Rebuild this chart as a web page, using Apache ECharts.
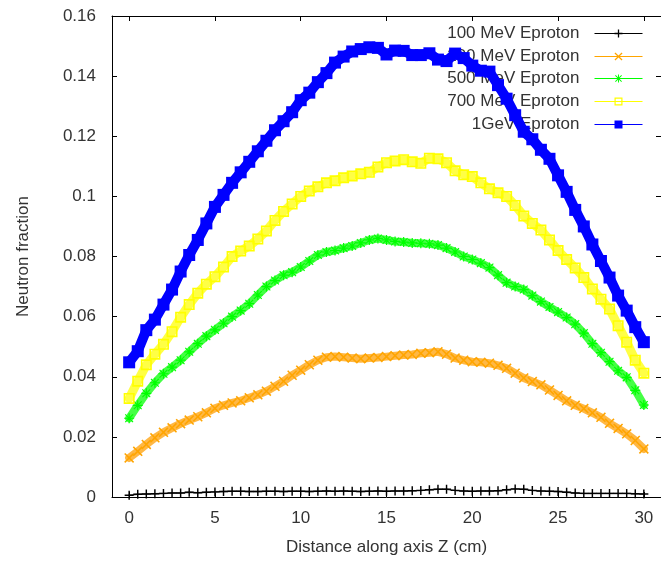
<!DOCTYPE html>
<html>
<head>
<meta charset="utf-8">
<script src="https://cdn.jsdelivr.net/npm/echarts@6/dist/echarts.min.js"></script>
<style>
html,body{margin:0;padding:0;background:#fff;}
#chart{width:661px;height:566px;}
</style>
</head>
<body>
<div id="chart"></div>
<script>
const seriesNames = ['100 MeV Eproton', '200 MeV Eproton', '500 MeV Eproton', '700 MeV Eproton', '1GeV Eproton'];
const xTicks = [0, 5, 10, 15, 20, 25, 30];
const yTicks = [0, 0.02, 0.04, 0.06, 0.08, 0.1, 0.12, 0.14, 0.16];
const zPositions = [0, 0.5, 1, 1.5, 2, 2.5, 3, 3.5, 4, 4.5, 5, 5.5, 6, 6.5, 7, 7.5, 8, 8.5, 9, 9.5,
  10, 10.5, 11, 11.5, 12, 12.5, 13, 13.5, 14, 14.5, 15, 15.5, 16, 16.5, 17, 17.5, 18, 18.5, 19, 19.5,
  20, 20.5, 21, 21.5, 22, 22.5, 23, 23.5, 24, 24.5, 25, 25.5, 26, 26.5, 27, 27.5, 28, 28.5, 29, 29.5, 30];

const mev100 = [0.0006, 0.0009, 0.0010, 0.0011, 0.0012, 0.0013, 0.0013, 0.0016, 0.0014, 0.0016,
  0.0017, 0.0018, 0.0019, 0.0019, 0.0018, 0.0018, 0.0019, 0.0019, 0.0018, 0.0019,
  0.0019, 0.0018, 0.0019, 0.0020, 0.0019, 0.0020, 0.0019, 0.0018, 0.0019, 0.0020,
  0.0019, 0.0020, 0.0020, 0.0021, 0.0022, 0.0024, 0.0026, 0.0026, 0.0022, 0.0020,
  0.0019, 0.0020, 0.0020, 0.0021, 0.0024, 0.0027, 0.0026, 0.0022, 0.0020, 0.0019,
  0.0018, 0.0016, 0.0013, 0.0012, 0.0012, 0.0012, 0.0012, 0.0012, 0.0012, 0.0011, 0.0010];

const mev200 = [0.0130, 0.0152, 0.0175, 0.0197, 0.0215, 0.0230, 0.0244, 0.0256, 0.0267, 0.0280,
  0.0295, 0.0305, 0.0313, 0.0320, 0.0330, 0.0340, 0.0352, 0.0368, 0.0385, 0.0405,
  0.0422, 0.0440, 0.0455, 0.0465, 0.0467, 0.0465, 0.0462, 0.0460, 0.0462, 0.0464,
  0.0467, 0.0470, 0.0472, 0.0474, 0.0478, 0.0480, 0.0483, 0.0475, 0.0462, 0.0455,
  0.0450, 0.0448, 0.0445, 0.0438, 0.0428, 0.0412, 0.0396, 0.0384, 0.0373, 0.0356,
  0.0338, 0.0320, 0.0305, 0.0294, 0.0280, 0.0265, 0.0245, 0.0228, 0.0210, 0.0188, 0.0160];

const mev500 = [0.0262, 0.0305, 0.0345, 0.0380, 0.0410, 0.0432, 0.0455, 0.0483, 0.0510, 0.0535,
  0.0556, 0.0578, 0.0600, 0.0620, 0.0643, 0.0672, 0.0700, 0.0720, 0.0738, 0.0748,
  0.0765, 0.0785, 0.0805, 0.0815, 0.0820, 0.0828, 0.0835, 0.0845, 0.0855, 0.0860,
  0.0855, 0.0850, 0.0848, 0.0845, 0.0844, 0.0842, 0.0838, 0.0828, 0.0815, 0.0800,
  0.0790, 0.0778, 0.0763, 0.0738, 0.0713, 0.0700, 0.0690, 0.0670, 0.0650, 0.0632,
  0.0615, 0.0597, 0.0575, 0.0545, 0.0510, 0.0480, 0.0450, 0.0420, 0.0398, 0.0355, 0.0306];

const mev700 = [0.0328, 0.0385, 0.0440, 0.0475, 0.0508, 0.0550, 0.0598, 0.0640, 0.0678, 0.0708,
  0.0733, 0.0765, 0.0800, 0.0818, 0.0835, 0.0858, 0.0885, 0.0920, 0.0950, 0.0975,
  0.1000, 0.1018, 0.1032, 0.1045, 0.1052, 0.1062, 0.1068, 0.1075, 0.1080, 0.1098,
  0.1112, 0.1118, 0.1122, 0.1115, 0.1110, 0.1127, 0.1125, 0.1112, 0.1085, 0.1072,
  0.1066, 0.1045, 0.1025, 0.1012, 0.1000, 0.0970, 0.0935, 0.0910, 0.0888, 0.0855,
  0.0820, 0.0790, 0.0762, 0.0730, 0.0692, 0.0658, 0.0625, 0.0570, 0.0515, 0.0455, 0.0412];

const gev1 = [0.0448, 0.0485, 0.0555, 0.0590, 0.0640, 0.0690, 0.0750, 0.0805, 0.0855, 0.0910,
  0.0965, 0.1005, 0.1045, 0.1080, 0.1115, 0.1150, 0.1185, 0.1220, 0.1250, 0.1280,
  0.1320, 0.1345, 0.1380, 0.1410, 0.1445, 0.1465, 0.1482, 0.1490, 0.1496, 0.1494,
  0.1472, 0.1485, 0.1484, 0.1470, 0.1470, 0.1476, 0.1455, 0.1450, 0.1475, 0.1460,
  0.1435, 0.1418, 0.1415, 0.1370, 0.1325, 0.1270, 0.1215, 0.1190, 0.1155, 0.1125,
  0.1070, 0.1015, 0.0955, 0.0900, 0.0840, 0.0785, 0.0730, 0.0670, 0.0620, 0.0565, 0.0515];

const seriesValues = [mev100, mev200, mev500, mev700, gev1];
const colors = ['#000000', '#ffa500', '#00ff00', '#ffff00', '#0000ff'];
const bandColors = ['#555555', '#ffb845', '#45ff45', '#ffff45', '#0000ff'];

const SYM_PLUS = 'path://M4.2,0H5.8V4.2H10V5.8H5.8V10H4.2V5.8H0V4.2H4.2Z';
const SYM_CROSS = 'path://M1.1,0L5,3.9L8.9,0L10,1.1L6.1,5L10,8.9L8.9,10L5,6.1L1.1,10L0,8.9L3.9,5L0,1.1Z';
const SYM_STAR = 'path://M4.4,0H5.6V4.4H10V5.6H5.6V10H4.4V5.6H0V4.4H4.4Z M1.5,0.7L5,4.2L8.5,0.7L9.3,1.5L5.8,5L9.3,8.5L8.5,9.3L5,5.8L1.5,9.3L0.7,8.5L4.2,5L0.7,1.5Z';
const SYM_OSQ = 'path://M0,0H10V10H0Z M1.5,1.5V8.5H8.5V1.5Z';
const symbols = [SYM_PLUS, SYM_CROSS, SYM_STAR, SYM_OSQ, 'rect'];
const symSizes = [9, 10, 10, 11, 12];
const lineWidths = [1.5, 8, 8, 9, 10];

const txt = '#333';
const font = 'Liberation Sans, Arial, sans-serif';

const chart = echarts.init(document.getElementById('chart'), null, {renderer: 'canvas'});

const series = seriesNames.map((name, i) => ({
  name: name,
  type: 'line',
  xAxisIndex: 0,
  yAxisIndex: 0,
  data: zPositions.map((z, j) => [z, seriesValues[i][j]]),
  symbol: symbols[i],
  symbolSize: symSizes[i],
  showAllSymbol: true,
  clip: false,
  color: colors[i],
  lineStyle: {color: bandColors[i], width: lineWidths[i], join: 'round', cap: 'round'},
  itemStyle: {color: colors[i], borderWidth: 0},
  emphasis: {disabled: true},
  animation: false,
  z: 2 + i
}));

const rowTops = [25, 48, 70, 93, 116];
const legends = seriesNames.map((name, i) => ({
  data: [{name: name, lineStyle: {width: 1, color: colors[i]}}],
  orient: 'vertical',
  right: 18,
  top: rowTops[i],
  align: 'right',
  padding: 0,
  itemWidth: 48,
  itemHeight: 10,
  z: 1,
  selectedMode: false,
  lineStyle: {width: 1, color: colors[i], cap: 'butt'},
  textStyle: {fontFamily: font, fontSize: 17, color: txt, padding: [0, 10, 0, 0]}
}));

const option = {
  backgroundColor: '#ffffff',
  animation: false,
  grid: {left: 112, top: 16, width: 552, height: 481, containLabel: false},
  legend: legends,
  xAxis: [{
    type: 'value', min: -1, max: 31, position: 'bottom',
    name: 'Distance along axis Z (cm)', nameLocation: 'middle', nameGap: 42,
    nameTextStyle: {fontFamily: font, fontSize: 17, color: txt},
    axisLine: {show: true, onZero: false, lineStyle: {color: '#000', width: 1}},
    axisTick: {show: true, inside: true, length: 5, lineStyle: {color: '#000'}, customValues: xTicks},
    axisLabel: {show: true, margin: 13, fontFamily: font, fontSize: 17, color: txt, customValues: xTicks,
      formatter: v => String(v)},
    splitLine: {show: false}
  }, {
    type: 'value', min: -1, max: 31, position: 'top',
    axisLine: {show: true, onZero: false, lineStyle: {color: '#000', width: 1}},
    axisTick: {show: true, inside: true, length: 5, lineStyle: {color: '#000'}, customValues: xTicks},
    axisLabel: {show: false},
    splitLine: {show: false}
  }],
  yAxis: [{
    type: 'value', min: 0, max: 0.16, interval: 0.02, position: 'left',
    name: 'Neutron fraction', nameLocation: 'middle', nameGap: 80,
    nameTextStyle: {fontFamily: font, fontSize: 17, color: txt},
    axisLine: {show: true, onZero: false, lineStyle: {color: '#000', width: 1}},
    axisTick: {show: true, inside: true, length: 5, lineStyle: {color: '#000'}},
    axisLabel: {show: true, margin: 16, fontFamily: font, fontSize: 17, color: txt,
      formatter: v => String(Math.round(v * 100) / 100)},
    splitLine: {show: false}
  }, {
    type: 'value', min: 0, max: 0.16, interval: 0.02, position: 'right',
    axisLine: {show: true, onZero: false, lineStyle: {color: '#000', width: 1}},
    axisTick: {show: true, inside: true, length: 5, lineStyle: {color: '#000'}},
    axisLabel: {show: false},
    splitLine: {show: false}
  }],
  series: series
};

chart.setOption(option);
</script>
</body>
</html>
